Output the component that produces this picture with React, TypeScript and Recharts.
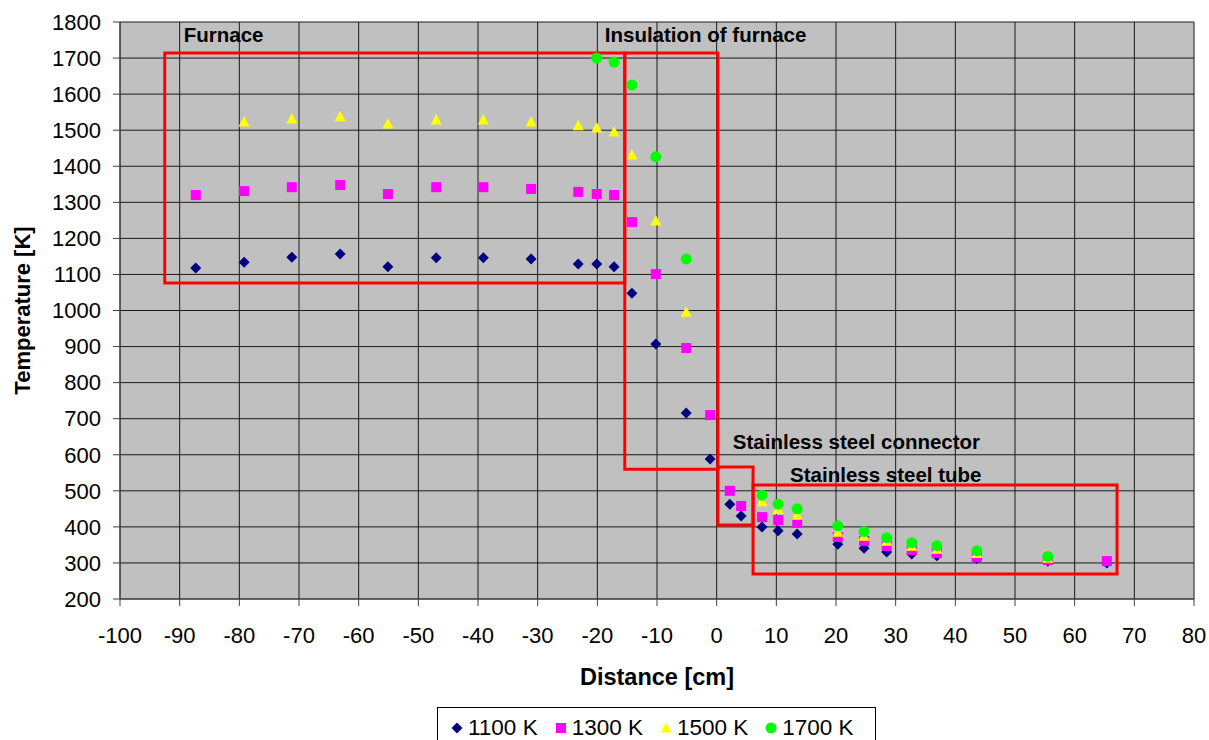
import React from "react";
import {
  ScatterChart,
  Scatter,
  XAxis,
  YAxis,
  CartesianGrid,
  ReferenceArea,
} from "recharts";

const FONT = '"Liberation Sans", Arial, sans-serif';

// distances [cm]
const xFurnace = [-87.3, -79.2, -71.2, -63.1, -55.1, -47.0, -39.1, -31.1, -23.2, -20.1, -17.2];
const xInsulation = [-14.2, -10.2, -5.1];
const xConnector = [-1.1, 2.2, 4.1];
const xTube = [7.6, 10.3, 13.5, 20.3, 24.7, 28.5, 32.7, 36.9, 43.6, 55.5, 65.4];

const x1100 = [...xFurnace, ...xInsulation, ...xConnector, ...xTube];
const t1100 = [
  1118, 1134, 1148, 1157, 1121, 1146, 1146, 1143, 1129, 1129, 1121,
  1048, 907, 716,
  588, 463, 430,
  400, 389, 380, 352, 341, 330, 325, 320, 312, 305, 300,
];

const x1300 = [...xFurnace, ...xInsulation, ...xConnector, ...xTube];
const t1300 = [
  1320, 1331, 1342, 1348, 1323, 1342, 1342, 1337, 1329, 1323, 1320,
  1245, 1101, 896,
  710, 500, 458,
  427, 419, 411, 372, 361, 347, 336, 327, 316, 308, 305,
];

const x1500 = [...xFurnace.slice(1), ...xInsulation, ...xTube.slice(0, 10)];
const t1500 = [
  1523, 1531, 1537, 1517, 1528, 1528, 1523, 1512, 1506, 1495,
  1431, 1248, 995,
  470, 448, 432, 385, 374, 360, 346, 338, 326, 313,
];

const x1700 = [-20.1, -17.2, ...xInsulation, ...xTube.slice(0, 10)];
const t1700 = [
  1700, 1689,
  1625, 1426, 1143,
  488, 463, 450, 403, 387, 370, 356, 348, 334, 318,
];

const xTicks = [-100, -90, -80, -70, -60, -50, -40, -30, -20, -10, 0, 10, 20, 30, 40, 50, 60, 70, 80];
const yTicks = [200, 300, 400, 500, 600, 700, 800, 900, 1000, 1100, 1200, 1300, 1400, 1500, 1600, 1700, 1800];

// annotated regions: [x1, x2, y1, y2]
const regions = [
  { name: "Furnace", box: [-92.5, -15.4, 1076, 1714], dx: 19, dy: -19 },
  { name: "Insulation of furnace", box: [-15.4, 0.2, 560, 1714], dx: -20, dy: -19 },
  { name: "Stainless steel connector", box: [0.2, 6.1, 405, 566], dx: 15, dy: -26 },
  { name: "Stainless steel tube", box: [6.1, 67.1, 269, 516], dx: 37, dy: -11 },
];

const zip = (xs: number[], ys: number[]) => xs.map((x, i) => ({ x, y: ys[i] }));

const Diamond = ({ cx, cy }: any) => (
  <polygon points={`${cx},${cy - 5.5} ${cx + 5.5},${cy} ${cx},${cy + 5.5} ${cx - 5.5},${cy}`} fill="#000080" />
);
const Square = ({ cx, cy }: any) => (
  <rect x={cx - 5} y={cy - 5} width={10} height={10} fill="#ff00ff" />
);
const Triangle = ({ cx, cy }: any) => (
  <polygon points={`${cx},${cy - 6} ${cx + 5.5},${cy + 4.5} ${cx - 5.5},${cy + 4.5}`} fill="#ffff00" />
);
const Circle = ({ cx, cy }: any) => <circle cx={cx} cy={cy} r={5.5} fill="#00ff00" />;

const series = [
  { name: "1100 K", data: zip(x1100, t1100), shape: Diamond },
  { name: "1300 K", data: zip(x1300, t1300), shape: Square },
  { name: "1500 K", data: zip(x1500, t1500), shape: Triangle },
  { name: "1700 K", data: zip(x1700, t1700), shape: Circle },
];

const tickStyle = { fill: "#000", fontSize: 22, fontFamily: FONT };

export default function App() {
  return (
    <div style={{ position: "absolute", left: 0, top: 0, width: 1209, height: 740, background: "#fff", overflow: "hidden", fontFamily: FONT }}>
      <ScatterChart width={1209} height={700} margin={{ top: 22, right: 15, bottom: 0, left: 0 }}>
        <CartesianGrid fill="#c0c0c0" stroke="#1a1a1a" horizontalValues={yTicks} verticalValues={xTicks} />
        <XAxis
          type="number"
          dataKey="x"
          domain={[-100, 80]}
          ticks={xTicks}
          interval={0}
          height={101}
          tickSize={7}
          tickMargin={21}
          stroke="#404040"
          tick={tickStyle}
          label={{
            content: ({ viewBox }: any) => (
              <text x={viewBox.x + viewBox.width / 2} y={685} textAnchor="middle" fontSize={23.5} fontWeight="bold" fontFamily={FONT} fill="#000">
                Distance [cm]
              </text>
            ),
          }}
        />
        <YAxis
          type="number"
          dataKey="y"
          domain={[200, 1800]}
          ticks={yTicks}
          interval={0}
          width={120}
          tickSize={7}
          tickMargin={12}
          stroke="#404040"
          tick={tickStyle}
          label={{
            content: ({ viewBox }: any) => {
              const cy = viewBox.y + viewBox.height / 2;
              return (
                <text x={30} y={cy} transform={`rotate(-90 30 ${cy})`} textAnchor="middle" fontSize={22} fontWeight="bold" fontFamily={FONT} fill="#000">
                  Temperature [K]
                </text>
              );
            },
          }}
        />
        {series.map((s) => (
          <Scatter key={s.name} name={s.name} data={s.data} shape={s.shape} isAnimationActive={false} />
        ))}
        {regions.map((r) => (
          <ReferenceArea
            key={r.name}
            x1={r.box[0]}
            x2={r.box[1]}
            y1={r.box[2]}
            y2={r.box[3]}
            fill="none"
            fillOpacity={0}
            stroke="#ff0000"
            strokeWidth={3}
            ifOverflow="visible"
            label={(p: any) => (
              <text x={p.viewBox.x + r.dx} y={p.viewBox.y + r.dy} dominantBaseline="central" fontSize={20.5} fontWeight="bold" fontFamily={FONT} fill="#000">
                {r.name}
              </text>
            )}
          />
        ))}
      </ScatterChart>
      <div
        style={{
          position: "absolute",
          left: 437,
          top: 707,
          width: 439,
          height: 44,
          border: "1px solid #000",
          display: "flex",
          alignItems: "flex-start",
          paddingTop: 7,
          paddingLeft: 12,
          boxSizing: "border-box",
          fontSize: 22.5,
          lineHeight: "26px",
        }}
      >
        {series.map((s) => (
          <div key={s.name} style={{ display: "flex", alignItems: "center", marginRight: 16 }}>
            <svg width={14} height={26} style={{ marginRight: 4 }}>
              <s.shape cx={7} cy={13} />
            </svg>
            <span>{s.name}</span>
          </div>
        ))}
      </div>
    </div>
  );
}
